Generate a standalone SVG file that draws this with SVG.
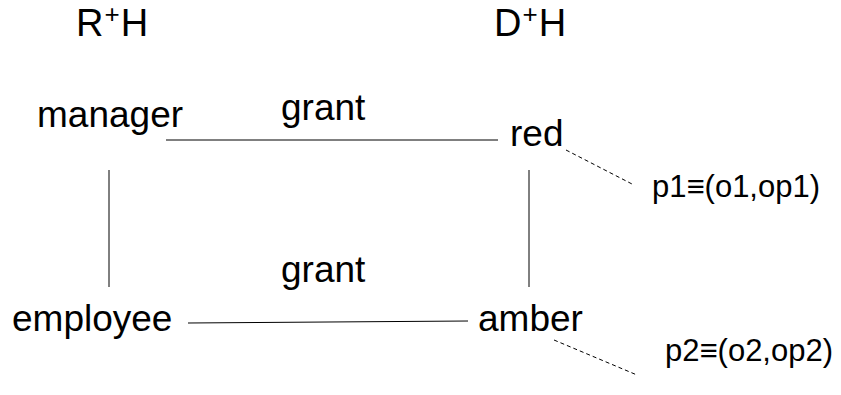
<svg xmlns="http://www.w3.org/2000/svg" width="841" height="395" viewBox="0 0 841 395">
  <style>
    text { font-family: "Liberation Sans", Arial, sans-serif; fill: #000; }
    .head { font-size: 38px; }
    .sup { font-size: 26px; }
    .node { font-size: 37px; }
    .perm { font-size: 31px; }
    .edge { stroke: #000; stroke-width: 1; fill: none; }
    .assoc { stroke: #000; stroke-width: 1; fill: none; stroke-dasharray: 4 3; }
  </style>
  <rect width="841" height="395" fill="#fff"/>

  <!-- hierarchy headings -->
  <g id="heading-rh">
    <text class="head" x="76" y="36">R<tspan class="sup" dx="1" dy="-13">+</tspan><tspan dx="1" dy="13">H</tspan></text>
  </g>
  <g id="heading-dh">
    <text class="head" x="494" y="36">D<tspan class="sup" dx="1" dy="-13">+</tspan><tspan dx="1" dy="13">H</tspan></text>
  </g>

  <!-- connectors -->
  <g id="connectors">
    <line class="edge" x1="166" y1="140" x2="498" y2="140"/>
    <line class="edge" x1="109" y1="170" x2="109" y2="287"/>
    <line class="edge" x1="529" y1="170" x2="529" y2="287"/>
    <line class="edge" x1="188" y1="323" x2="468" y2="321"/>
    <line class="assoc" x1="566" y1="150" x2="632" y2="184"/>
    <line class="assoc" x1="554" y1="340" x2="637" y2="375"/>
    <text class="node" x="281" y="120">grant</text>
    <text class="node" x="281" y="282">grant</text>
  </g>

  <!-- roles -->
  <g id="manager"><text class="node" x="37" y="127">manager</text></g>
  <g id="employee"><text class="node" x="12" y="331">employee</text></g>

  <!-- domains -->
  <g id="red"><text class="node" x="510" y="146">red</text></g>
  <g id="amber"><text class="node" x="478" y="331">amber</text></g>

  <!-- permissions -->
  <g id="p1"><text class="perm" x="652" y="197">p1≡(o1,op1)</text></g>
  <g id="p2"><text class="perm" x="665" y="361">p2≡(o2,op2)</text></g>
</svg>
